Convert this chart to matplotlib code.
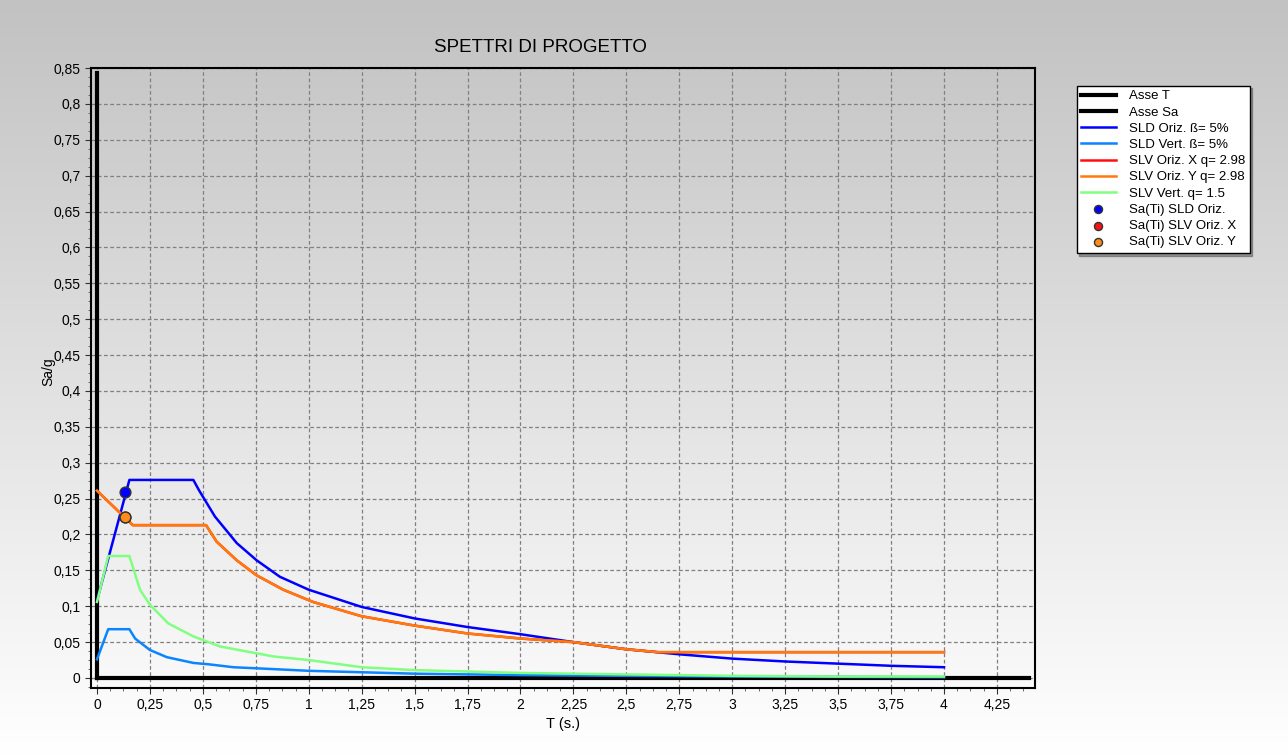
import matplotlib
matplotlib.use("Agg")
import matplotlib.pyplot as plt
import numpy as np
from matplotlib.ticker import MultipleLocator, AutoMinorLocator, FuncFormatter

plt.rcParams['font.family'] = ['Liberation Sans', 'DejaVu Sans']

# SLD Oriz. (blue)
t_sld_o = [0, 0.153, 0.455, 0.483, 0.557, 0.66, 0.754, 0.864, 1.0, 1.25, 1.5, 1.75,
           2.0, 2.25, 2.5, 2.75, 3.0, 3.25, 3.5, 3.75, 4.0]
sa_sld_o = [0.108, 0.276, 0.276, 0.261, 0.225, 0.188, 0.164, 0.141, 0.123, 0.099, 0.083,
            0.071, 0.061, 0.050, 0.040, 0.033, 0.027, 0.023, 0.020, 0.017, 0.015]

# SLD Vert. (light blue)
t_sld_v = [0, 0.053, 0.153, 0.18, 0.25, 0.33, 0.455, 0.53, 0.644, 0.86, 1.0, 1.25,
           1.5, 2.0, 2.5, 3.0, 3.5, 4.0]
sa_sld_v = [0.026, 0.068, 0.068, 0.055, 0.039, 0.029, 0.021, 0.019, 0.015, 0.012,
            0.010, 0.008, 0.006, 0.004, 0.003, 0.002, 0.0015, 0.001]

# SLV Oriz. X / Y (red hidden under orange)
t_slv_o = [0, 0.169, 0.515, 0.565, 0.66, 0.754, 0.88, 1.02, 1.25, 1.5, 1.75, 2.0,
           2.25, 2.5, 2.65, 3.0, 3.5, 4.0]
sa_slv_x = [0.261, 0.213, 0.213, 0.190, 0.164, 0.143, 0.123, 0.106, 0.086, 0.073,
            0.062, 0.055, 0.050, 0.040, 0.036, 0.036, 0.036, 0.036]
sa_slv_y = [0.261, 0.213, 0.213, 0.190, 0.164, 0.143, 0.123, 0.106, 0.086, 0.073,
            0.062, 0.055, 0.050, 0.040, 0.036, 0.036, 0.036, 0.036]

# SLV Vert. (light green)
t_slv_v = [0, 0.053, 0.153, 0.203, 0.25, 0.337, 0.455, 0.58, 0.833, 1.0, 1.25, 1.5,
           2.0, 2.5, 3.0, 3.5, 4.0]
sa_slv_v = [0.106, 0.170, 0.170, 0.123, 0.102, 0.076, 0.058, 0.044, 0.030, 0.025,
            0.015, 0.011, 0.007, 0.005, 0.003, 0.002, 0.002]

# Sa(Ti) points
ti = [0.132, 0.132, 0.132]
sa_ti = [0.259, 0.224, 0.224]

axis_t = [0, 4.4]
axis_sa = [0, 0.843]

fig = plt.figure(figsize=(12.88, 7.56), dpi=100)

# background gradient
bg = fig.add_axes([0, 0, 1, 1], zorder=-10)
grad = np.linspace(0, 1, 256).reshape(-1, 1)
cmap = matplotlib.colors.LinearSegmentedColormap.from_list('bg', ['#c2c2c2', '#ffffff'])
bg.imshow(grad, aspect='auto', cmap=cmap, extent=[0, 1, 0, 1])
bg.axis('off')

ax = fig.add_axes([0.0707, 0.0899, 0.7329, 0.8201])
ax.set_facecolor('none')

ax.plot(axis_t, [0, 0], color='black', lw=3, label='Asse T', zorder=3)
ax.plot([0, 0], axis_sa, color='black', lw=3, label='Asse Sa', zorder=3)
ax.plot(t_sld_o, sa_sld_o, color='#0000ff', lw=1.8, label='SLD Oriz. ß= 5%', zorder=4)
ax.plot(t_sld_v, sa_sld_v, color='#0a84ff', lw=1.8, label='SLD Vert. ß= 5%', zorder=4)
ax.plot(t_slv_o, sa_slv_x, color='#ff1010', lw=1.8, label='SLV Oriz. X q= 2.98', zorder=4)
ax.plot(t_slv_o, sa_slv_y, color='#ff7a0a', lw=1.8, label='SLV Oriz. Y q= 2.98', zorder=4)
ax.plot(t_slv_v, sa_slv_v, color='#80ff80', lw=1.8, label='SLV Vert. q= 1.5', zorder=4)
ax.scatter(ti[0], sa_ti[0], s=60, color='#0000ff', edgecolor='#333333', lw=1,
           label='Sa(Ti) SLD Oriz.', zorder=5)
ax.scatter(ti[1], sa_ti[1], s=60, color='#ff1010', edgecolor='#333333', lw=1,
           label='Sa(Ti) SLV Oriz. X', zorder=5)
ax.scatter(ti[2], sa_ti[2], s=60, color='#ff8c1a', edgecolor='#333333', lw=1,
           label='Sa(Ti) SLV Oriz. Y', zorder=6)

ax.set_xlim(-0.028, 4.43)
ax.set_ylim(-0.014, 0.85)

comma = FuncFormatter(lambda v, p: f"{v:.2f}".rstrip('0').rstrip('.').replace('.', ','))
ax.xaxis.set_major_locator(MultipleLocator(0.25))
ax.yaxis.set_major_locator(MultipleLocator(0.05))
ax.xaxis.set_minor_locator(AutoMinorLocator(4))
ax.yaxis.set_minor_locator(AutoMinorLocator(4))
ax.xaxis.set_major_formatter(comma)
ax.yaxis.set_major_formatter(comma)
ax.tick_params(axis='both', which='major', labelsize=10, length=4, color='#333333')
ax.tick_params(axis='both', which='minor', length=2.5, color='#555555')
ax.grid(True, which='major', linestyle=(0, (3, 2)), color='#808080', lw=0.9)
for s in ax.spines.values():
    s.set_linewidth(1.5)
    s.set_color('black')

ax.set_xlabel('T (s.)', fontsize=10.5, labelpad=3)
ax.set_ylabel('Sa/g', fontsize=10)
ax.yaxis.set_label_coords(-0.038, 0.51)
fig.text(540 / 1288, 1 - 47 / 756, 'SPETTRI DI PROGETTO', ha='center', va='center',
         fontsize=13.5)

leg = ax.legend(loc='upper left', bbox_to_anchor=(1070 / 1288, 1 - 79 / 756),
                bbox_transform=fig.transFigure, fontsize=9.5, frameon=True,
                fancybox=False, shadow=True, handlelength=2.6, borderpad=0.35,
                labelspacing=0.3, handletextpad=1.0, markerscale=0.75)
leg.get_frame().set_edgecolor('black')
leg.get_frame().set_linewidth(1)
leg.get_frame().set_facecolor('white')

fig.savefig('out.png', dpi=100)
